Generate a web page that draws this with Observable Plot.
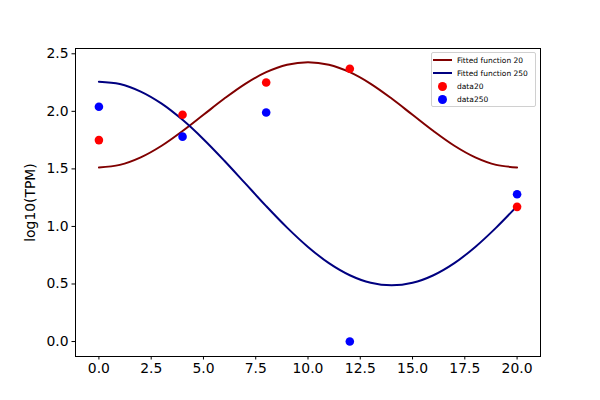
<!DOCTYPE html>
<html>
<head>
<meta charset="utf-8">
<script src="https://cdn.jsdelivr.net/npm/d3@7"></script>
<script src="https://cdn.jsdelivr.net/npm/@observablehq/plot@0.6"></script>
<style>
  html, body { margin: 0; padding: 0; background: #fff; }
  #wrap { position: relative; width: 600px; height: 400px; font-family: "DejaVu Sans", sans-serif; }
  #legend { position: absolute; left: 431px; top: 52px; width: 105px; height: 55px;
    border: 1px solid #d0d0d0; border-radius: 2px; background: rgba(255,255,255,0.8);
    font-size: 7.5px; color: #000; box-sizing: border-box; }
  .row { position: absolute; left: 0; height: 10px; display: flex; align-items: center; }
  .sw { width: 19px; margin-left: 1px; display: flex; justify-content: center; align-items: center; }
  .ln { width: 19px; height: 2px; }
  .dot { width: 9px; height: 9px; border-radius: 50%; }
  .lab { margin-left: 5px; white-space: nowrap; }
</style>
</head>
<body>
<div id="wrap"></div>
<script>
// Observed data points
const xData = [0, 4, 8, 12, 20];
const data20 = [1.75, 1.97, 2.25, 2.37, 1.17];
const data250 = [2.04, 1.78, 1.99, 0.0, 1.28];

// Fitted curves at x = 0..20
const xFit = [0,1,2,3,4,5,6,7,8,9,10,11,12,13,14,15,16,17,18,19,20];
const fit20 = [1.513,1.535,1.600,1.701,1.829,1.970,2.111,2.239,2.340,2.405,2.427,2.405,2.340,2.239,2.111,1.970,1.829,1.701,1.600,1.535,1.513];
const fit250 = [2.258,2.238,2.172,2.067,1.926,1.758,1.571,1.374,1.177,0.990,0.822,0.681,0.576,0.510,0.488,0.510,0.576,0.681,0.822,0.990,1.177];

const xTicks = [0, 2.5, 5, 7.5, 10, 12.5, 15, 17.5, 20];
const yTicks = [0, 0.5, 1, 1.5, 2, 2.5];

const legendItems = [
  {label: "Fitted function 20", color: "#800000", kind: "line"},
  {label: "Fitted function 250", color: "#000080", kind: "line"},
  {label: "data20", color: "red", kind: "dot"},
  {label: "data250", color: "blue", kind: "dot"}
];

const pts20 = xData.map((x, i) => ({x, y: data20[i]}));
const pts250 = xData.map((x, i) => ({x, y: data250[i]}));
const c20 = xFit.map((x, i) => ({x, y: fit20[i]}));
const c250 = xFit.map((x, i) => ({x, y: fit250[i]}));

const chart = Plot.plot({
  width: 600,
  height: 400,
  marginLeft: 75,
  marginRight: 60,
  marginTop: 48,
  marginBottom: 44,
  style: {fontFamily: "DejaVu Sans, sans-serif", fontSize: "13.9px", color: "#000", background: "#fff"},
  x: {domain: [-1.12, 21.12]},
  y: {domain: [-0.13, 2.546]},
  marks: [
    Plot.axisX({ticks: xTicks, tickFormat: d3.format(".1f"), tickSize: 3.5, tickPadding: 3.5, label: null, fontSize: 13.9}),
    Plot.axisY({ticks: yTicks, tickFormat: d3.format(".1f"), tickSize: 3.5, tickPadding: 3.5, label: "log10(TPM)", labelAnchor: "center", labelArrow: "none", labelOffset: 50, fontSize: 13.9}),
    Plot.line(c20, {x: "x", y: "y", stroke: "#800000", strokeWidth: 2, curve: "catmull-rom"}),
    Plot.line(c250, {x: "x", y: "y", stroke: "#000080", strokeWidth: 2, curve: "catmull-rom"}),
    Plot.dot(pts20, {x: "x", y: "y", fill: "red", r: 4.3}),
    Plot.dot(pts250, {x: "x", y: "y", fill: "blue", r: 4.3}),
    Plot.frame({stroke: "#000", strokeWidth: 1})
  ]
});

const wrap = document.getElementById("wrap");
wrap.appendChild(chart);

const legend = document.createElement("div");
legend.id = "legend";
const rowTops = [2, 15, 28, 41];
legendItems.forEach((it, i) => {
  const row = document.createElement("div");
  row.className = "row";
  row.style.top = rowTops[i] + "px";
  const sw = document.createElement("div");
  sw.className = "sw";
  const mk = document.createElement("div");
  mk.className = it.kind === "line" ? "ln" : "dot";
  mk.style.background = it.color;
  sw.appendChild(mk);
  const lab = document.createElement("span");
  lab.className = "lab";
  lab.textContent = it.label;
  row.appendChild(sw);
  row.appendChild(lab);
  legend.appendChild(row);
});
wrap.appendChild(legend);
</script>
</body>
</html>
